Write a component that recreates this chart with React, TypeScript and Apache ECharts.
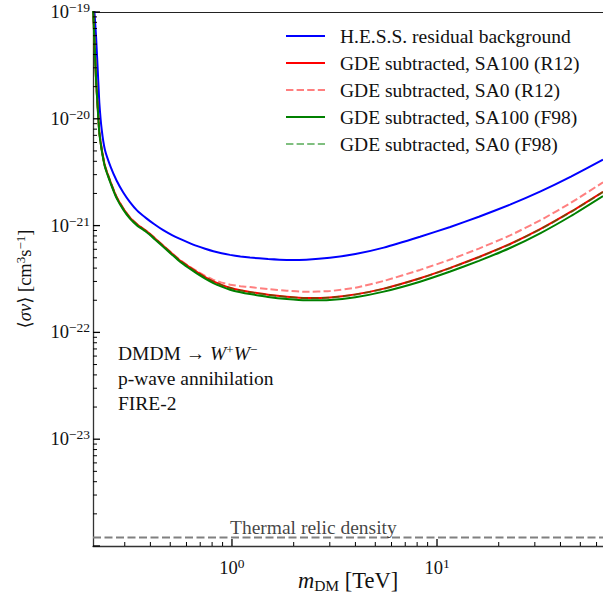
import { useEffect, useRef } from 'react';
import * as echarts from 'echarts';

// ---- data (x in TeV, y as log10 of <sigma v> in cm^3 s^-1) ----
const massTeV = [
  0.21, 0.2175, 0.223, 0.2255, 0.2315, 0.24, 0.256, 0.274, 0.295, 0.318, 0.345, 0.384,
  0.42, 0.462, 0.51, 0.558, 0.61, 0.673, 0.74, 0.811, 0.89, 0.978, 1.1, 1.224, 1.5,
  1.85, 2.3, 3.0, 4.0, 5.5, 8.26, 11.6, 16, 22.7, 32, 45, 64.5,
];
const hessLog = [
  -18.8, -19.24, -19.66, -19.85, -20.1, -20.29, -20.45, -20.58, -20.69, -20.78, -20.86, -20.935,
  -20.99, -21.043, -21.089, -21.125, -21.157, -21.19, -21.217, -21.24, -21.259, -21.274, -21.289, -21.299, -21.313,
  -21.321, -21.319, -21.302, -21.266, -21.206, -21.104, -21.0125, -20.9175, -20.8035, -20.6795, -20.5415, -20.3825,
];
const sa100R12Log = [
  -18.94, -19.64, -19.99, -20.126, -20.283, -20.439, -20.594, -20.735, -20.84, -20.925, -20.99, -21.053,
  -21.118, -21.188, -21.262, -21.328, -21.38, -21.434, -21.482, -21.523, -21.555, -21.582, -21.605, -21.621, -21.647,
  -21.666, -21.678, -21.673, -21.644, -21.59, -21.493, -21.396, -21.294, -21.172, -21.031, -20.87, -20.683,
];
const sa0R12Log = [
  -18.938, -19.638, -19.988, -20.124, -20.281, -20.437, -20.592, -20.733, -20.838, -20.923, -20.988, -21.051,
  -21.116, -21.186, -21.258, -21.322, -21.374, -21.426, -21.471, -21.508, -21.534, -21.553, -21.567, -21.576, -21.595,
  -21.61, -21.62, -21.613, -21.581, -21.518, -21.415, -21.318, -21.215, -21.092, -20.949, -20.786, -20.595,
];
const sa100F98Log = [
  -18.95, -19.65, -20.0, -20.136, -20.293, -20.449, -20.604, -20.745, -20.85, -20.935, -21.0, -21.063,
  -21.128, -21.198, -21.272, -21.338, -21.392, -21.447, -21.496, -21.538, -21.572, -21.6, -21.624, -21.641, -21.668,
  -21.688, -21.7, -21.697, -21.67, -21.618, -21.525, -21.43, -21.33, -21.21, -21.07, -20.91, -20.723,
];
const sa0F98Log = [
  -18.943, -19.643, -19.993, -20.129, -20.286, -20.442, -20.597, -20.738, -20.843, -20.928, -20.993, -21.056,
  -21.121, -21.191, -21.265, -21.331, -21.383, -21.437, -21.485, -21.526, -21.558, -21.585, -21.608, -21.624, -21.65,
  -21.669, -21.681, -21.676, -21.647, -21.593, -21.496, -21.399, -21.297, -21.175, -21.034, -20.873, -20.686,
];
const thermalRelic = 1.2e-24;
const thermalLabelX = 1.0;

const seriesNames = [
  'H.E.S.S. residual background',
  'GDE subtracted, SA100 (R12)',
  'GDE subtracted, SA0 (R12)',
  'GDE subtracted, SA100 (F98)',
  'GDE subtracted, SA0 (F98)',
];
const seriesDashed = [false, false, true, false, true];

const xRange = [0.21, 64.5];
const yRange = [1e-24, 1e-19];
const xMajorTicks = [1, 10];
const xMinorTicks = [0.3, 0.4, 0.5, 0.6, 0.7, 0.8, 0.9, 2, 3, 4, 5, 6, 7, 8, 9, 20, 30, 40, 50, 60];
const yMajorTicks = [1e-24, 1e-23, 1e-22, 1e-21, 1e-20, 1e-19];
const yDecades = [-24, -23, -22, -21, -20];
const yMinorDigits = [2, 3, 4, 5, 6, 7, 8, 9];
const yMinorTicks = yDecades.flatMap((k) => yMinorDigits.map((d) => d * Math.pow(10, k)));

const FONT = '"Liberation Serif", "DejaVu Serif", serif';
const TXT = '#111';
const SOLID_ICON = 'path://M0,0H39V2H0Z';
const DASH_ICON = 'path://M0,0H7.4V2H0Z M10.6,0H18V2H10.6Z M21.2,0H28.6V2H21.2Z M31.8,0H39V2H31.8Z';

function pairs(logs: number[]) {
  return massTeV.map((m, i) => [m, Math.pow(10, logs[i])]);
}

function tickSeries(data: number[][], orient: 'x' | 'y') {
  return {
    type: 'custom',
    silent: true,
    clip: false,
    z: 20,
    data,
    renderItem: (_p: any, api: any) => {
      const p = api.coord([api.value(0), api.value(1)]);
      const len = api.value(2);
      const shape =
        orient === 'y'
          ? { x1: p[0], y1: p[1], x2: p[0] + len, y2: p[1] }
          : { x1: p[0], y1: p[1], x2: p[0], y2: p[1] - len };
      return { type: 'line', shape, style: { stroke: '#000', lineWidth: len > 5 ? 1.3 : 1 } };
    },
  };
}

const powRich = {
  b: { fontSize: 18.5, fontFamily: FONT, color: TXT },
  s: { fontSize: 13.5, fontFamily: FONT, color: TXT, padding: [0, 0, 9, 0] },
};

function powLabel(v: number) {
  const e = Math.log10(v);
  const r = Math.round(e);
  if (Math.abs(e - r) > 1e-6) return '';
  const s = r < 0 ? '\u2212' + Math.abs(r) : String(r);
  return '{b|10}{s|' + s + '}';
}

export default function App() {
  const ref = useRef<HTMLDivElement>(null);
  useEffect(() => {
    if (!ref.current) return;
    const chart = echarts.init(ref.current, undefined, { renderer: 'svg' });
    const lineBase = { type: 'line', symbol: 'none', showSymbol: false, smooth: 0.15, clip: true };
    const option: any = {
      animation: false,
      backgroundColor: '#fff',
      textStyle: { fontFamily: FONT, color: TXT },
      grid: { left: 93, right: 0, top: 12, bottom: 59, containLabel: false, outerBoundsMode: 'none' },
      xAxis: [
        {
          type: 'log',
          logBase: 10,
          min: xRange[0],
          max: xRange[1],
          axisLine: { show: true, lineStyle: { color: '#333', width: 1.3 } },
          axisTick: { show: false },
          splitLine: { show: false },
          axisLabel: {
            margin: 10,
            fontSize: 18.5,
            fontFamily: FONT,
            formatter: powLabel,
            rich: powRich,
            showMinLabel: false,
            showMaxLabel: false,
          },
          name: '{i|m}{sub|DM} [TeV]',
          nameLocation: 'middle',
          nameGap: 21,
          nameMoveOverlap: false,
          nameTextStyle: {
            fontSize: 22.5,
            fontFamily: FONT,
            color: TXT,
            rich: {
              i: { fontSize: 22.5, fontStyle: 'italic', fontFamily: FONT, color: TXT },
              sub: { fontSize: 15.5, fontFamily: FONT, color: TXT, padding: [10, 0, 0, 0] },
            },
          },
        },
        {
          type: 'log',
          logBase: 10,
          position: 'top',
          min: xRange[0],
          max: xRange[1],
          axisLine: { show: true, lineStyle: { color: '#222', width: 1 } },
          axisTick: { show: false },
          axisLabel: { show: false },
          splitLine: { show: false },
        },
      ],
      yAxis: {
        type: 'log',
        logBase: 10,
        min: yRange[0],
        max: yRange[1],
        axisLine: { show: true, lineStyle: { color: '#333', width: 1.3 } },
        axisTick: { show: false },
        splitLine: { show: false },
        axisLabel: { margin: 3, fontSize: 18.5, fontFamily: FONT, formatter: powLabel, rich: powRich },
        name: '\u27E8{i|\u03C3v}\u27E9 [cm{s|3}s{s|\u22121}]',
        nameLocation: 'middle',
        nameGap: 57,
        nameMoveOverlap: false,
        nameTextStyle: {
          fontSize: 18.5,
          fontFamily: FONT,
          color: TXT,
          rich: {
            i: { fontSize: 18.5, fontStyle: 'italic', fontFamily: FONT, color: TXT },
            s: { fontSize: 13, fontFamily: FONT, color: TXT, padding: [0, 0, 9, 0] },
          },
        },
      },
      legend: {
        data: seriesNames.map((n, i) => ({ name: n, icon: seriesDashed[i] ? DASH_ICON : SOLID_ICON })),
        orient: 'vertical',
        left: 281,
        top: 20,
        itemWidth: 39,
        itemHeight: 2,
        itemGap: 5,
        selectedMode: false,
        textStyle: { fontSize: 19.5, fontFamily: FONT, color: TXT, lineHeight: 22, padding: [0, 0, 0, 10] },
      },
      graphic: [
        {
          type: 'text',
          left: 118,
          top: 341,
          style: {
            text: 'DMDM \u2192 {i|W}{s|+}{i|W}{s|\u2212}\np-wave annihilation\nFIRE-2',
            fontSize: 19.5,
            fontFamily: FONT,
            fill: TXT,
            lineHeight: 25,
            rich: {
              i: { fontSize: 19.5, fontStyle: 'italic', fontFamily: FONT, fill: TXT, lineHeight: 25 },
              s: { fontSize: 13, fontFamily: FONT, fill: TXT, padding: [0, 0, 9, 0], lineHeight: 25 },
            },
          },
        },
      ],
      series: [
        { ...lineBase, name: seriesNames[0], data: pairs(hessLog), lineStyle: { color: '#0000ff', width: 2 }, itemStyle: { color: '#0000ff' }, z: 3 },
        { ...lineBase, name: seriesNames[1], data: pairs(sa100R12Log), lineStyle: { color: '#ff0000', width: 2 }, itemStyle: { color: '#ff0000' }, z: 4 },
        { ...lineBase, name: seriesNames[2], data: pairs(sa0R12Log), lineStyle: { color: 'rgba(255,0,0,0.5)', width: 2, type: [7.4, 3.2] }, itemStyle: { color: 'rgba(255,0,0,0.5)' }, z: 5 },
        { ...lineBase, name: seriesNames[3], data: pairs(sa100F98Log), lineStyle: { color: '#008000', width: 2 }, itemStyle: { color: '#008000' }, z: 6 },
        { ...lineBase, name: seriesNames[4], data: pairs(sa0F98Log), lineStyle: { color: 'rgba(0,128,0,0.5)', width: 2, type: [7.4, 3.2] }, itemStyle: { color: 'rgba(0,128,0,0.5)' }, z: 7 },
        {
          type: 'line',
          name: 'thermal',
          symbol: 'none',
          data: [[xRange[0], thermalRelic], [xRange[1], thermalRelic]],
          lineStyle: { color: '#808080', width: 2, type: [8, 3.5] },
          z: 2,
        },
        {
          type: 'scatter',
          name: 'thermalLabel',
          symbolSize: 0,
          silent: true,
          data: [[thermalLabelX, thermalRelic]],
          label: {
            show: true,
            position: 'right',
            distance: 0,
            offset: [-2, -10],
            formatter: 'Thermal relic density',
            fontSize: 19.5,
            fontFamily: FONT,
            color: TXT,
          },
          z: 8,
        },
        tickSeries([...yMajorTicks.map((v) => [xRange[0], v, 7]), ...yMinorTicks.map((v) => [xRange[0], v, 4])], 'y'),
        tickSeries([...xMajorTicks.map((v) => [v, yRange[0], 7]), ...xMinorTicks.map((v) => [v, yRange[0], 4])], 'x'),
      ],
    };
    chart.setOption(option);
    return () => chart.dispose();
  }, []);
  return <div ref={ref} style={{ position: 'fixed', left: 0, top: 0, width: 603, height: 605 }} />;
}
